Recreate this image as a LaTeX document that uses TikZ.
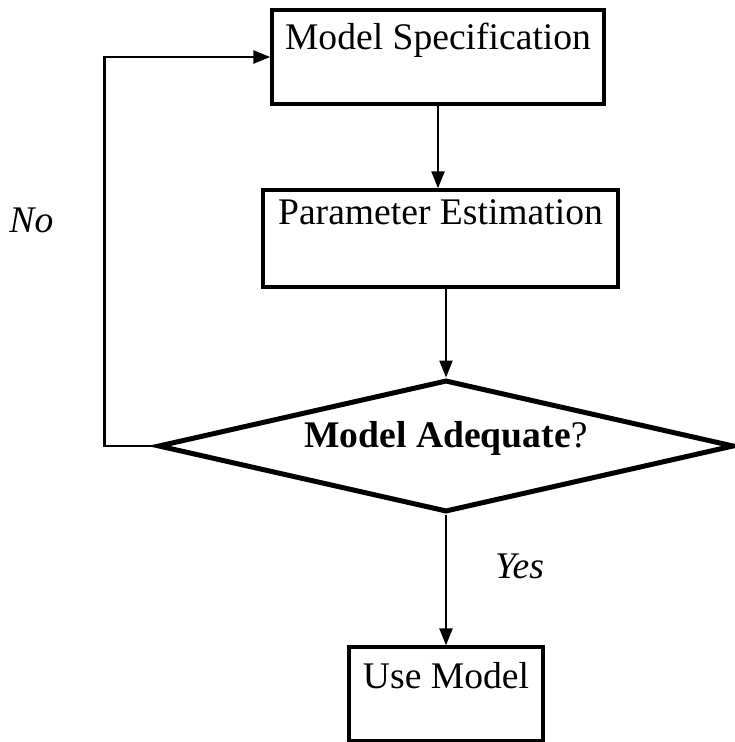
\documentclass[tikz,border=0pt]{standalone}
\usepackage{fontspec}
\setmainfont{Liberation Serif}
\usetikzlibrary{arrows.meta,shapes.geometric}

\begin{document}
\begin{tikzpicture}[->,>={Triangle[length=8.5pt,width=6.5pt]},line width=1.2pt,
      font=\fontsize{18.8}{22}\selectfont,
      box/.style={draw,rectangle,inner sep=0pt,line width=1.7pt},
      decision/.style={draw,diamond,aspect=4.4,inner sep=0pt,line width=2.5pt},
      answer/.style={inner sep=0pt,font=\fontsize{18.8}{22}\selectfont\itshape}]
  \useasboundingbox (0,0) rectangle (367pt,-371pt);
			\node[box,minimum width=166pt,text height=20pt,text depth=27pt] (spec) at (219pt,-28.5pt) {Model Specification};
			\node[box,minimum width=177.5pt,text height=17.5pt,text depth=31pt] (est) at (220.25pt,-119.25pt) {Parameter Estimation};
			\node[decision,minimum width=288pt,minimum height=66pt,text height=6pt,text depth=4.5pt] (check) at (223pt,-223pt) {\textbf{Model Adequate}?};
			\node[box,minimum width=97pt,text height=20.5pt,text depth=26.5pt] (use) at (223pt,-347pt) {Use Model};
			\path
				(spec.south) edge (spec.south |- est.north)
				(check.north |- est.south) edge (check.north)
				(check.south) edge node[answer,pos=0.4,right=24pt] {Yes} (use);
			\draw (check.west) -- ++(-25.5pt,0) |- node[answer,pos=0.29,left=25pt] {No} (spec.west);
		\end{tikzpicture}
\end{document}
